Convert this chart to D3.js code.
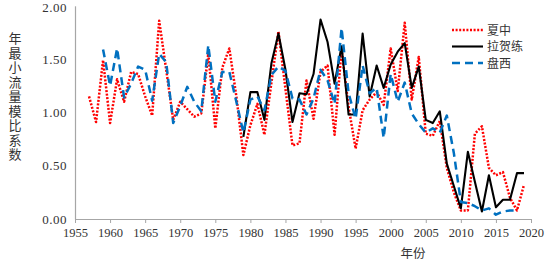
<!DOCTYPE html>
<html>
<head>
<meta charset="utf-8">
<script src="https://cdn.jsdelivr.net/npm/d3@7"></script>
<style>
  html, body { margin: 0; padding: 0; background: #fff; }
  svg { display: block; }
  .num text { font-family: 'Liberation Serif', 'Times New Roman', Times, serif; }
</style>
</head>
<body>
<div id="chart"></div>
<script>
// 年最小流量模比系数
const yearsXZ = d3.range(1957, 2020);
const valsXZ = [1.15, 0.91, 1.49, 0.90, 1.31, 1.10, 1.38, 1.36, 1.15, 0.97,
  1.86, 1.40, 0.93, 1.10, 1.03, 0.96, 0.99, 1.55, 0.85, 1.42,
  1.60, 1.15, 0.60, 0.88, 1.08, 0.79, 1.28, 1.76, 1.22, 0.69,
  0.71, 1.30, 0.94, 1.38, 1.44, 0.79, 1.59, 1.05, 0.66, 1.02,
  1.12, 1.19, 1.07, 1.60, 1.20, 1.84, 1.12, 1.52, 0.80, 0.78,
  0.92, 0.48, 0.25, 0.08, 0.08, 0.80, 0.87, 0.48, 0.41, 0.44,
  0.20, 0.08, 0.32];

const yearsLHL = d3.range(1979, 2020);
const valsLHL = [0.77, 1.19, 1.19, 0.93, 1.46, 1.74, 1.40, 0.91, 1.18, 1.17,
  1.36, 1.87, 1.66, 1.27, 1.62, 0.98, 0.98, 1.74, 1.15, 1.44,
  1.23, 1.45, 1.57, 1.65, 1.23, 1.43, 0.93, 0.90, 1.01, 0.52,
  0.31, 0.10, 0.63, 0.35, 0.07, 0.41, 0.11, 0.18, 0.18, 0.43,
  0.43];

const yearsPX = d3.range(1959, 2019);
const valsPX = [1.59, 1.25, 1.60, 1.14, 1.27, 1.43, 1.40, 1.11, 1.55, 1.47,
  0.90, 1.06, 1.24, 1.10, 1.01, 1.63, 1.10, 1.38, 1.38, 1.10,
  0.81, 1.12, 1.15, 1.02, 1.35, 1.43, 1.39, 1.13, 1.12, 0.98,
  1.13, 1.40, 1.30, 1.08, 1.79, 1.18, 0.94, 1.44, 1.18, 1.23,
  0.76, 1.36, 1.10, 1.28, 0.99, 0.89, 0.81, 0.85, 0.81, 0.97,
  0.62, 0.16, 0.15, 0.12, 0.08, 0.10, 0.04, 0.07, 0.08, 0.08];

const xTicks = d3.range(1955, 2021, 5);
const yTicks = [0, 0.5, 1, 1.5, 2];
const yLabel = '年最小流量模比系数';
const xLabel = '年份';

const series = [
  { name: '夏中', years: yearsXZ, vals: valsXZ, color: '#ff0000', dash: '2,1.6', w: 2.5 },
  { name: '拉贺练', years: yearsLHL, vals: valsLHL, color: '#000000', dash: null, w: 2.1 },
  { name: '盘西', years: yearsPX, vals: valsPX, color: '#0070c0', dash: '8,5', w: 2.5 }
];

const W = 553, H = 263;
const cjkFont = '"Noto Sans CJK SC", sans-serif';
const axisColor = '#a6a6a6';

const svg = d3.select('#chart').append('svg').attr('width', W).attr('height', H);

const x = d3.scaleLinear().domain([1955, 2020]).range([75, 531]);
const y = d3.scaleLinear().domain([0, 2]).range([219, 5.8]);

// y axis
const gy = svg.append('g').attr('class', 'num').attr('transform', `translate(${x(1955)},0)`)
  .call(d3.axisLeft(y).tickValues(yTicks).tickSize(0).tickPadding(8).tickFormat(d3.format('.2f')));
gy.attr('font-family', null).attr('font-size', 13);
gy.select('.domain').attr('stroke', axisColor).attr('stroke-width', 1.2);
gy.selectAll('text').attr('letter-spacing', 0.5).attr('fill', '#333');
gy.selectAll('.tick').filter(d => d === 2).select('text').attr('dy', '0.45em');

// x axis
const gx = svg.append('g').attr('class', 'num').attr('transform', `translate(0,${y(0)})`)
  .call(d3.axisBottom(x).tickValues(xTicks).tickSize(4).tickSizeOuter(0).tickPadding(5).tickFormat(d3.format('d')));
gx.attr('font-family', null).attr('font-size', 12.5);
gx.select('.domain').attr('stroke', axisColor).attr('stroke-width', 1.2);
gx.selectAll('line').attr('stroke', axisColor);
gx.selectAll('text').attr('fill', '#333');

// titles
svg.append('text').attr('x', 15).attr('y', 32)
  .style('writing-mode', 'vertical-rl').style('glyph-orientation-vertical', '0')
  .style('font-family', cjkFont).style('font-size', '13px').style('letter-spacing', '1.5px')
  .attr('fill', '#333').text(yLabel);
svg.append('text').attr('x', 413).attr('y', 258).attr('text-anchor', 'middle')
  .style('font-family', cjkFont).style('font-size', '12.5px').attr('fill', '#333').text(xLabel);

// lines
const line = d3.line().x(d => x(d[0])).y(d => y(d[1]));
series.forEach(s => {
  svg.append('path')
    .datum(s.years.map((yr, i) => [yr, s.vals[i]]))
    .attr('fill', 'none')
    .attr('stroke', s.color)
    .attr('stroke-width', s.w)
    .attr('stroke-dasharray', s.dash)
    .attr('stroke-linejoin', 'round')
    .attr('d', line);
});

// legend
const legend = svg.append('g').attr('transform', 'translate(452,30)');
series.forEach((s, i) => {
  const lg = legend.append('g').attr('transform', `translate(0,${i * 16.5})`);
  lg.append('line').attr('x1', 0).attr('x2', 31).attr('y1', 0).attr('y2', 0)
    .attr('stroke', s.color).attr('stroke-width', s.w).attr('stroke-dasharray', s.dash);
  lg.append('text').attr('x', 35).attr('y', 4.5).style('font-family', cjkFont).style('font-size', '12px')
    .attr('fill', '#333').text(s.name);
});
</script>
</body>
</html>
